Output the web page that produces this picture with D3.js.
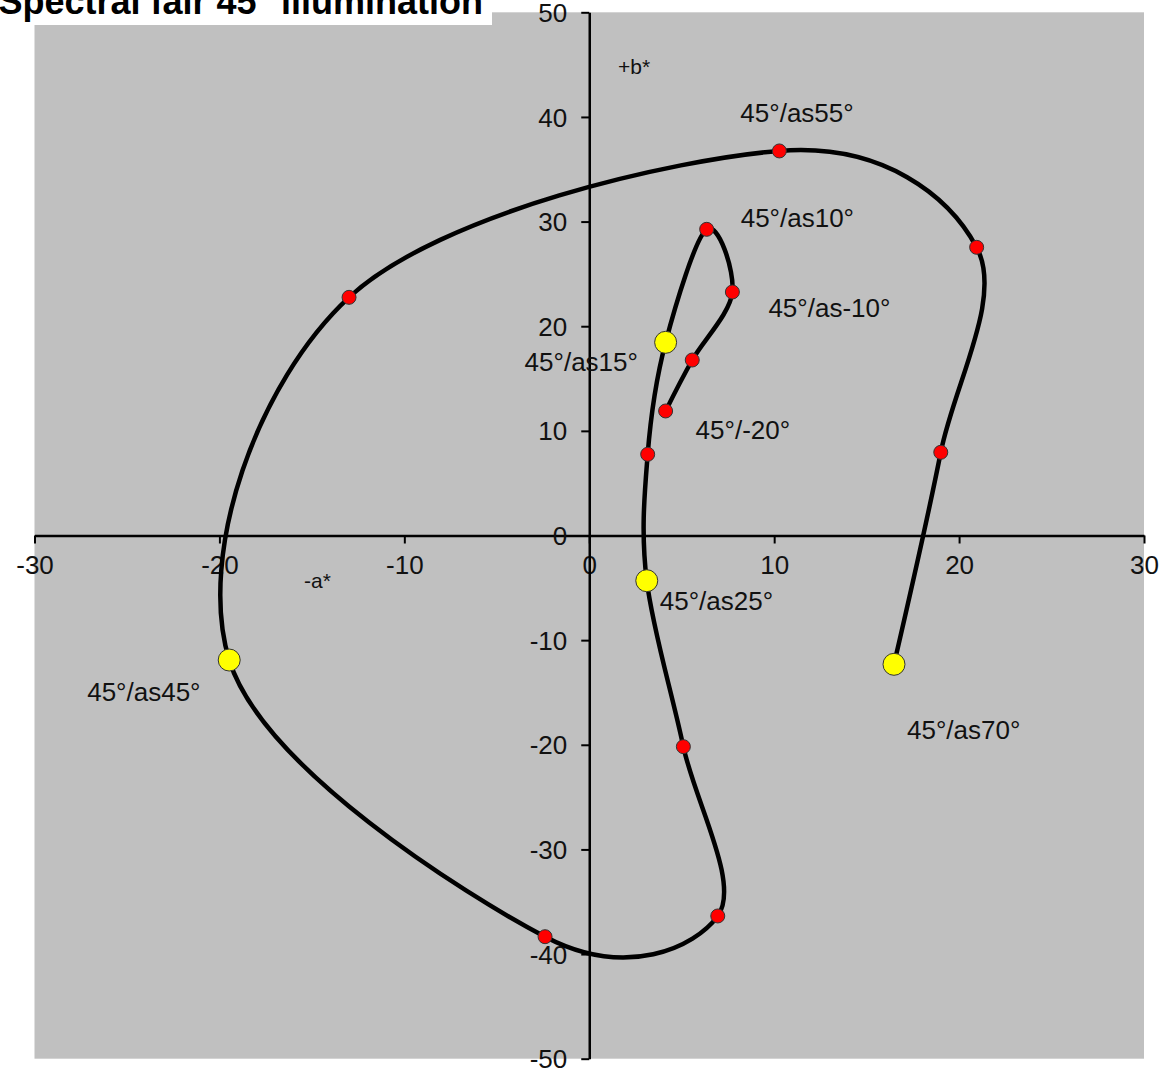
<!DOCTYPE html>
<html>
<head>
<meta charset="utf-8">
<script src="https://cdn.jsdelivr.net/npm/d3@7"></script>
<style>
  body { margin: 0; background: #fff; }
  svg { display: block; font-family: "Liberation Sans", Arial, sans-serif; }
</style>
</head>
<body>
<svg id="chart" width="1162" height="1068"></svg>
<script>
/* a*, b* values along the curve, in drawing order */
var aValues = [4.13, 5.57, 7.74, 6.35, 4.13, 3.16, 3.11, 5.09, 6.95, -2.39, -19.47, -12.99, 10.28, 20.95, 19.01, 16.48];
var bValues = [11.9, 16.77, 23.27, 29.26, 18.46, 7.76, -4.32, -20.18, -36.36, -38.34, -11.9, 22.76, 36.75, 27.54, 7.95, -12.31];
// marker kind per point: 0 = red, 1 = yellow
var markerKind = [0, 0, 0, 0, 1, 0, 1, 0, 0, 0, 1, 0, 0, 0, 0, 1];

/* labels: text + which point they belong to */
var labelTexts = ["45°/-20°", "45°/as-10°", "45°/as10°", "45°/as15°", "45°/as25°", "45°/as45°", "45°/as55°", "45°/as70°"];
var labelPoint = [0, 2, 3, 4, 6, 10, 12, 15];
// label offset from point, in pixels
var labelDx = [30, 36, 34, -141, 13, -142, -39, 13];
var labelDy = [28, 25, -2, 29, 29, 41, -29, 75];

var xTicks = [-30, -20, -10, 0, 10, 20, 30];
var yTicks = [-50, -40, -30, -20, -10, 0, 10, 20, 30, 40, 50];

var svg = d3.select("#chart");

var x = d3.scaleLinear().domain([-30, 30]).range([34.5, 1144]);
var y = d3.scaleLinear().domain([-50, 50]).range([1058.7, 12.3]);

// plot area
svg.append("rect")
    .attr("x", x(-30)).attr("y", y(50))
    .attr("width", x(30) - x(-30))
    .attr("height", y(-50) - y(50))
    .attr("fill", "#c0c0c0");

// plain hyphen for negatives, like the original
var fmt = function(d) { return String(d); };

// x axis through b* = 0
var xAxis = d3.axisBottom(x).tickValues(xTicks).tickFormat(fmt)
    .tickSize(8).tickSizeOuter(0).tickPadding(12);
var gx = svg.append("g")
    .attr("transform", "translate(0," + y(0) + ")")
    .call(xAxis);

// y axis through a* = 0
var yAxis = d3.axisLeft(y).tickValues(yTicks).tickFormat(fmt)
    .tickSize(8).tickSizeOuter(0).tickPadding(14);
var gy = svg.append("g")
    .attr("transform", "translate(" + x(0) + ",0)")
    .call(yAxis);

[gx, gy].forEach(function(g) {
    g.select(".domain").attr("stroke", "#000").attr("stroke-width", 2.5);
    g.selectAll(".tick line").attr("stroke", "#000").attr("stroke-width", 2);
    g.selectAll(".tick text")
        .attr("fill", "#111")
        .style("font-size", "26px")
        .style("font-family", "'Liberation Sans', Arial, sans-serif");
});
gy.selectAll(".tick text").attr("dy", "0.35em");

// axis names
svg.append("text").attr("x", 618).attr("y", 74)
    .style("font-size", "21px").attr("fill", "#111").text("+b*");
svg.append("text").attr("x", 304).attr("y", 588)
    .style("font-size", "21px").attr("fill", "#111").text("-a*");

// smoothed line
var pts = aValues.map(function(a, i) { return [a, bValues[i]]; });
var line = d3.line()
    .x(function(d) { return x(d[0]); })
    .y(function(d) { return y(d[1]); })
    .curve(d3.curveCardinal.tension(0));

svg.append("path")
    .datum(pts)
    .attr("d", line)
    .attr("fill", "none")
    .attr("stroke", "#000")
    .attr("stroke-width", 4.5);

// markers
svg.selectAll(".pt")
    .data(pts)
    .enter()
    .append("circle")
    .attr("class", "pt")
    .attr("cx", function(d) { return x(d[0]); })
    .attr("cy", function(d) { return y(d[1]); })
    .attr("r", function(d, i) { return markerKind[i] ? 11 : 7; })
    .attr("fill", function(d, i) { return markerKind[i] ? "#ffff00" : "#ff0000"; })
    .attr("stroke", "#333")
    .attr("stroke-width", 1);

// point labels
svg.selectAll(".lbl")
    .data(labelTexts)
    .enter()
    .append("text")
    .attr("class", "lbl")
    .attr("x", function(d, i) { return x(pts[labelPoint[i]][0]) + labelDx[i]; })
    .attr("y", function(d, i) { return y(pts[labelPoint[i]][1]) + labelDy[i]; })
    .style("font-size", "26px")
    .attr("fill", "#111")
    .text(function(d) { return d; });

// title box (partly cut off, as in the source)
svg.append("rect")
    .attr("x", 0).attr("y", 0)
    .attr("width", 492).attr("height", 25)
    .attr("fill", "#fff");
svg.append("text")
    .attr("x", 483).attr("y", 14)
    .attr("text-anchor", "end")
    .style("font-size", "36px")
    .style("font-weight", "bold")
    .attr("fill", "#000")
    .text("Spectral fair 45° illumination");
</script>
</body>
</html>
